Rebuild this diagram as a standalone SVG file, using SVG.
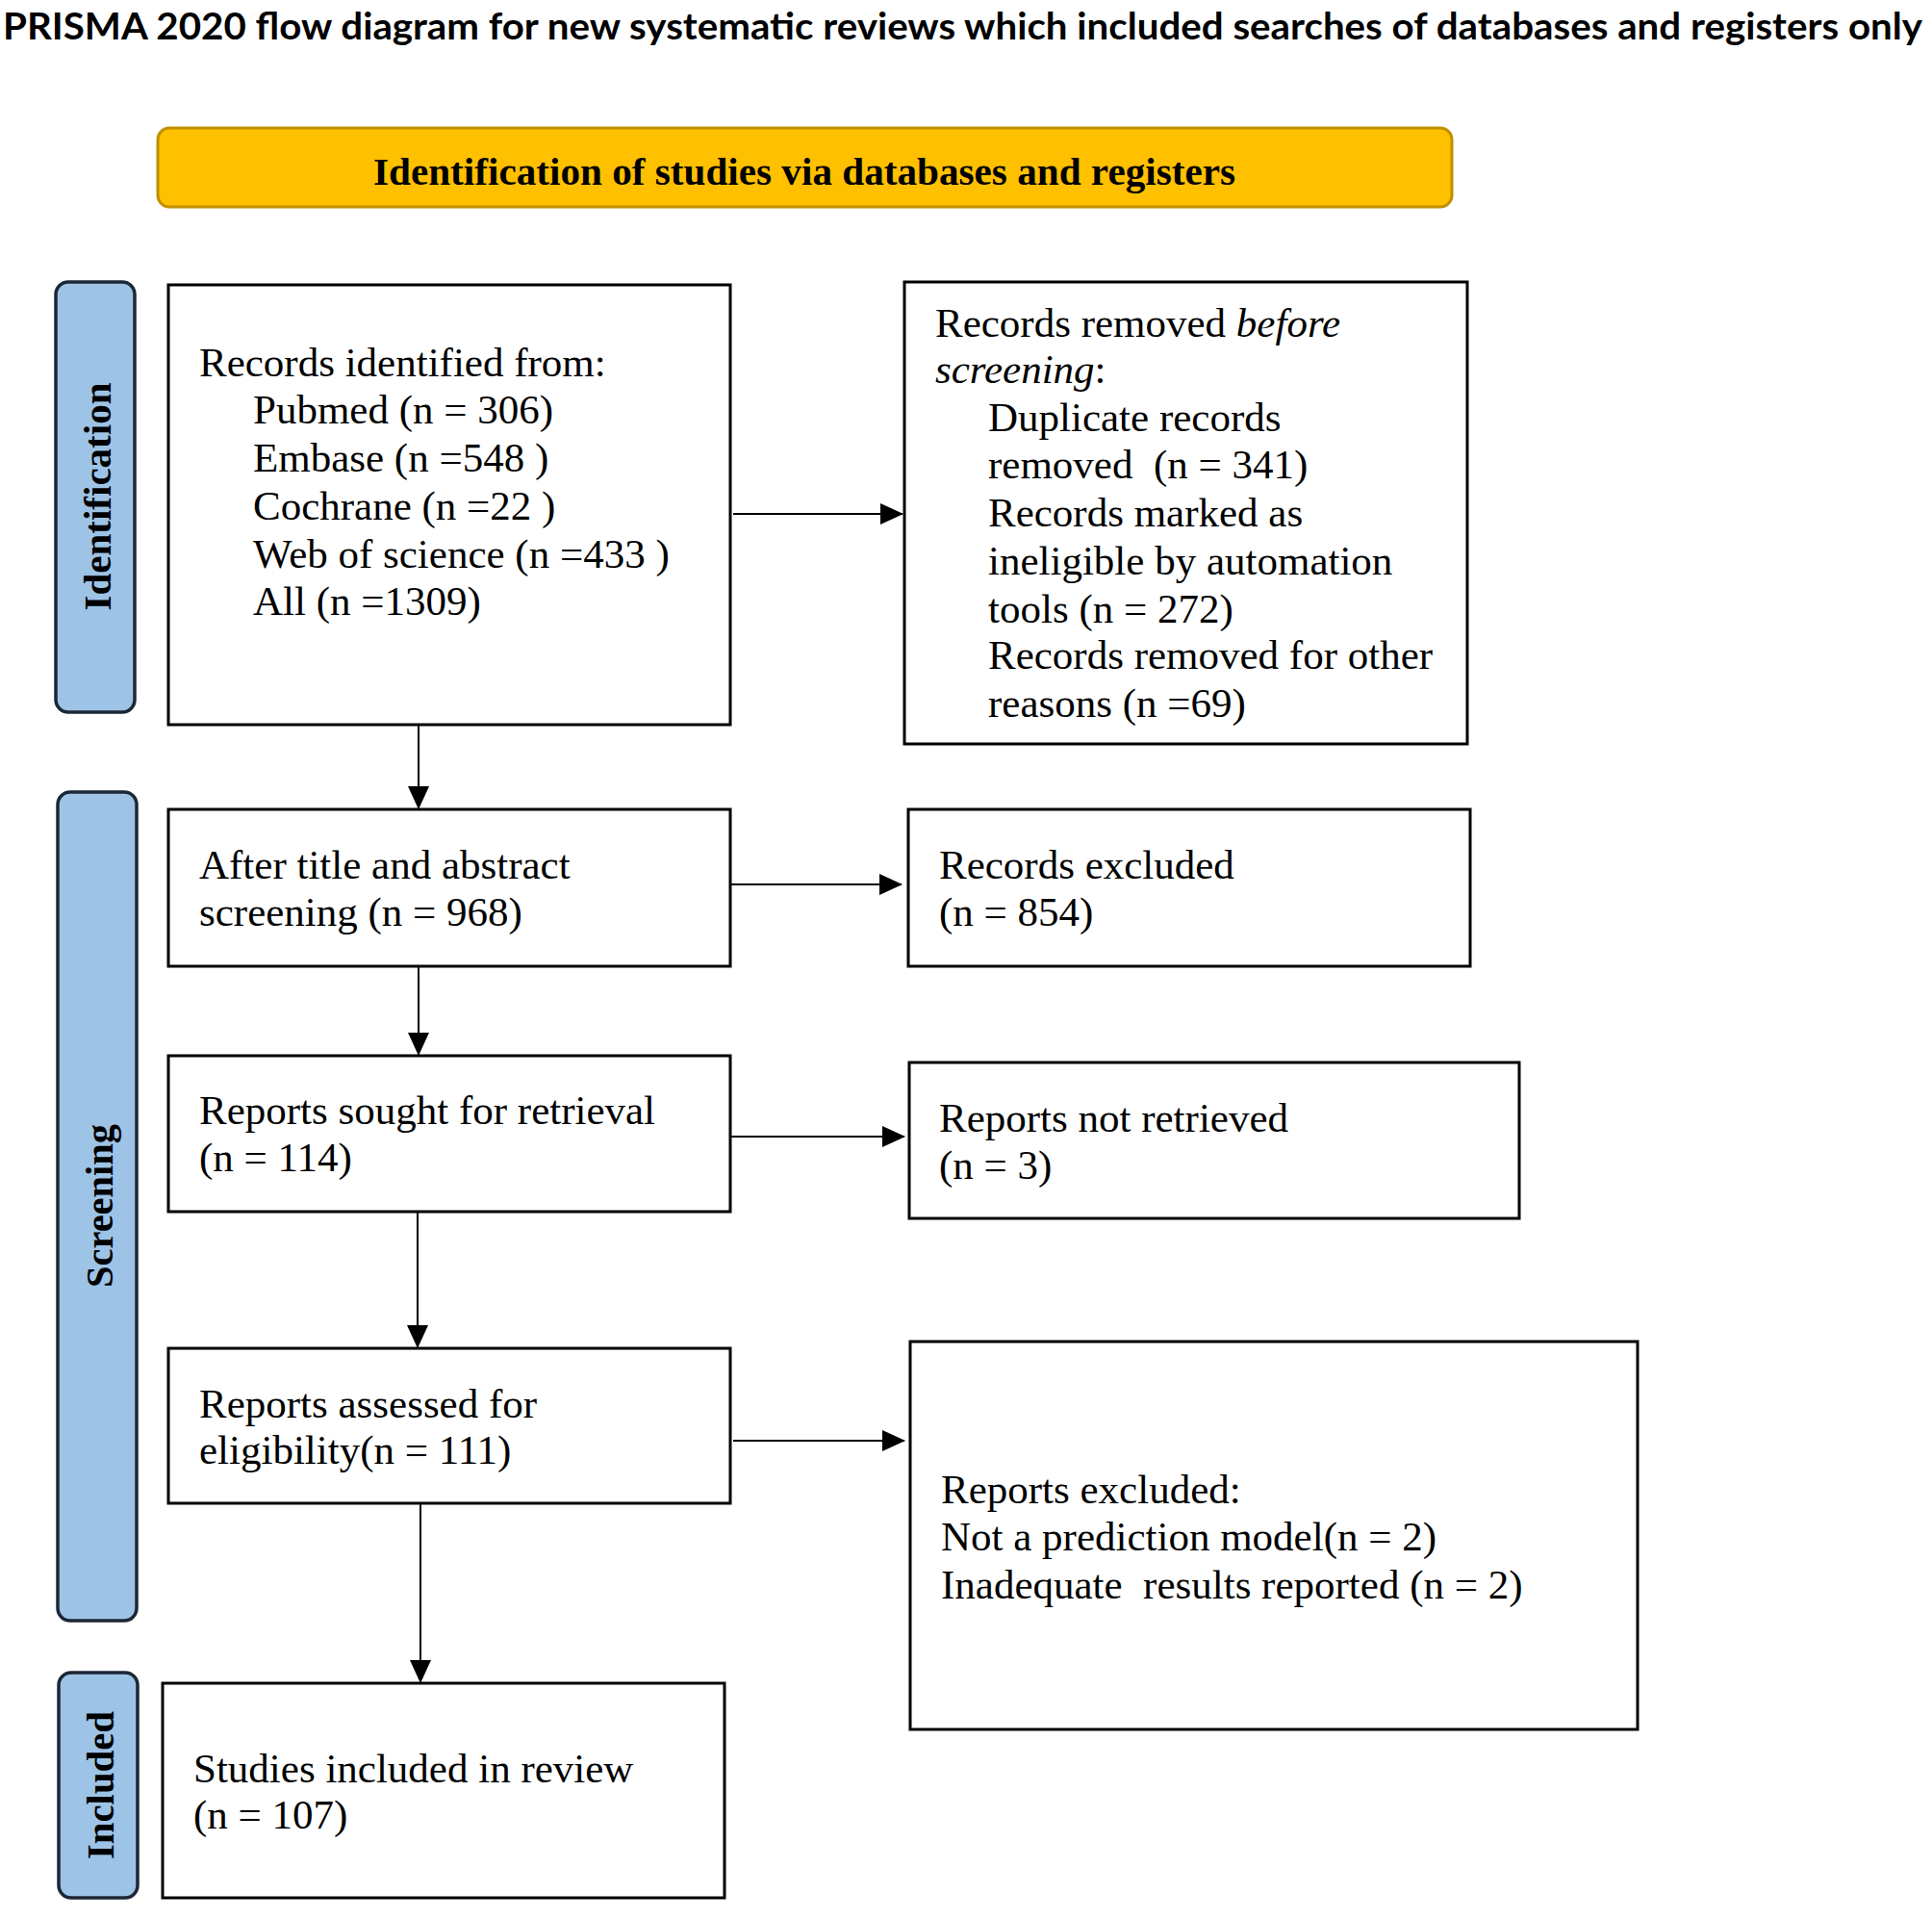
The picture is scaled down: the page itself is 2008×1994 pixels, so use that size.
<svg xmlns="http://www.w3.org/2000/svg" width="2008" height="1994" viewBox="0 0 2008 1994">
<style>
.bx{fill:#fff;stroke:#000;stroke-width:3}
.side{fill:#9DC3E6;stroke:#1c2735;stroke-width:3.5}
.t{font-family:"Liberation Serif","Times New Roman",serif;font-size:43px;fill:#000;white-space:pre}
.sl{font-family:"Liberation Serif","Times New Roman",serif;font-size:41px;font-weight:bold;fill:#000}
.cn{stroke:#000;stroke-width:2;fill:none;marker-end:url(#ah)}
</style>
<defs>
<marker id="ah" viewBox="0 0 24 22" refX="23" refY="11" markerWidth="24" markerHeight="22" markerUnits="userSpaceOnUse" orient="auto">
<path d="M0,0 L24,11 L0,22 z" fill="#000"/>
</marker>
</defs>
<rect width="2008" height="1994" fill="#fff"/>
<text x="3" y="41" font-family="Lato,'Open Sans',sans-serif" font-weight="bold" font-size="39" textLength="1995" lengthAdjust="spacingAndGlyphs">PRISMA 2020 flow diagram for new systematic reviews which included searches of databases and registers only</text>

<g id="header">
<rect x="164" y="133" width="1345" height="82" rx="12" fill="#FFC000" stroke="#BF9000" stroke-width="3"/>
<text x="388" y="192" font-family="'Liberation Serif',serif" font-weight="bold" font-size="39" textLength="896" lengthAdjust="spacingAndGlyphs">Identification of studies via databases and registers</text>
</g>

<g id="label-identification">
<rect class="side" x="58" y="293" width="82" height="447" rx="13"/>
<text class="sl" transform="translate(115,516) rotate(-90)" text-anchor="middle" textLength="237" lengthAdjust="spacingAndGlyphs">Identification</text>
</g>
<g id="label-screening">
<rect class="side" x="60" y="823" width="82" height="861" rx="13"/>
<text class="sl" transform="translate(117,1253) rotate(-90)" text-anchor="middle" textLength="170" lengthAdjust="spacingAndGlyphs">Screening</text>
</g>
<g id="label-included">
<rect class="side" x="61" y="1738" width="82" height="234" rx="13"/>
<text class="sl" transform="translate(118,1855) rotate(-90)" text-anchor="middle" textLength="154" lengthAdjust="spacingAndGlyphs">Included</text>
</g>

<g id="records-identified">
<rect class="bx" x="175" y="296" width="584" height="457"/>
<text class="t" x="207" y="391">Records identified from:</text>
<text class="t" x="263" y="440">Pubmed (n = 306)</text>
<text class="t" x="263" y="490">Embase (n =548 )</text>
<text class="t" x="263" y="540">Cochrane (n =22 )</text>
<text class="t" x="263" y="590">Web of science (n =433 )</text>
<text class="t" x="263" y="639">All (n =1309)</text>
</g>

<g id="records-removed">
<rect class="bx" x="940" y="293" width="585" height="480"/>
<text class="t" x="972" y="350">Records removed <tspan font-style="italic">before</tspan></text>
<text class="t" x="972" y="398"><tspan font-style="italic">screening</tspan>:</text>
<text class="t" x="1027" y="448">Duplicate records</text>
<text class="t" x="1027" y="497">removed  (n = 341)</text>
<text class="t" x="1027" y="547">Records marked as</text>
<text class="t" x="1027" y="597">ineligible by automation</text>
<text class="t" x="1027" y="647">tools (n = 272)</text>
<text class="t" x="1027" y="695">Records removed for other</text>
<text class="t" x="1027" y="745">reasons (n =69)</text>
</g>

<g id="title-abstract">
<rect class="bx" x="175" y="841" width="584" height="163"/>
<text class="t" x="207" y="913">After title and abstract</text>
<text class="t" x="207" y="962">screening (n = 968)</text>
</g>

<g id="records-excluded">
<rect class="bx" x="944" y="841" width="584" height="163"/>
<text class="t" x="976" y="913">Records excluded</text>
<text class="t" x="976" y="962">(n = 854)</text>
</g>

<g id="reports-sought">
<rect class="bx" x="175" y="1097" width="584" height="162"/>
<text class="t" x="207" y="1168">Reports sought for retrieval</text>
<text class="t" x="207" y="1217">(n = 114)</text>
</g>

<g id="reports-not-retrieved">
<rect class="bx" x="945" y="1104" width="634" height="162"/>
<text class="t" x="976" y="1176">Reports not retrieved</text>
<text class="t" x="976" y="1225">(n = 3)</text>
</g>

<g id="reports-assessed">
<rect class="bx" x="175" y="1401" width="584" height="161"/>
<text class="t" x="207" y="1473">Reports assessed for</text>
<text class="t" x="207" y="1521">eligibility(n = 111)</text>
</g>

<g id="reports-excluded">
<rect class="bx" x="946" y="1394" width="756" height="403"/>
<text class="t" x="978" y="1562">Reports excluded:</text>
<text class="t" x="978" y="1611">Not a prediction model(n = 2)</text>
<text class="t" x="978" y="1661">Inadequate  results reported (n = 2)</text>
</g>

<g id="studies-included">
<rect class="bx" x="169" y="1749" width="584" height="223"/>
<text class="t" x="201" y="1852">Studies included in review</text>
<text class="t" x="201" y="1900">(n = 107)</text>
</g>

<g id="connectors">
<line class="cn" x1="762" y1="534" x2="938" y2="534"/>
<line class="cn" x1="435" y1="753" x2="435" y2="840"/>
<line class="cn" x1="759" y1="919" x2="937" y2="919"/>
<line class="cn" x1="435" y1="1004" x2="435" y2="1096"/>
<line class="cn" x1="759" y1="1181" x2="940" y2="1181"/>
<line class="cn" x1="434" y1="1259" x2="434" y2="1400"/>
<line class="cn" x1="762" y1="1497" x2="940" y2="1497"/>
<line class="cn" x1="437" y1="1562" x2="437" y2="1748"/>
</g>
</svg>
